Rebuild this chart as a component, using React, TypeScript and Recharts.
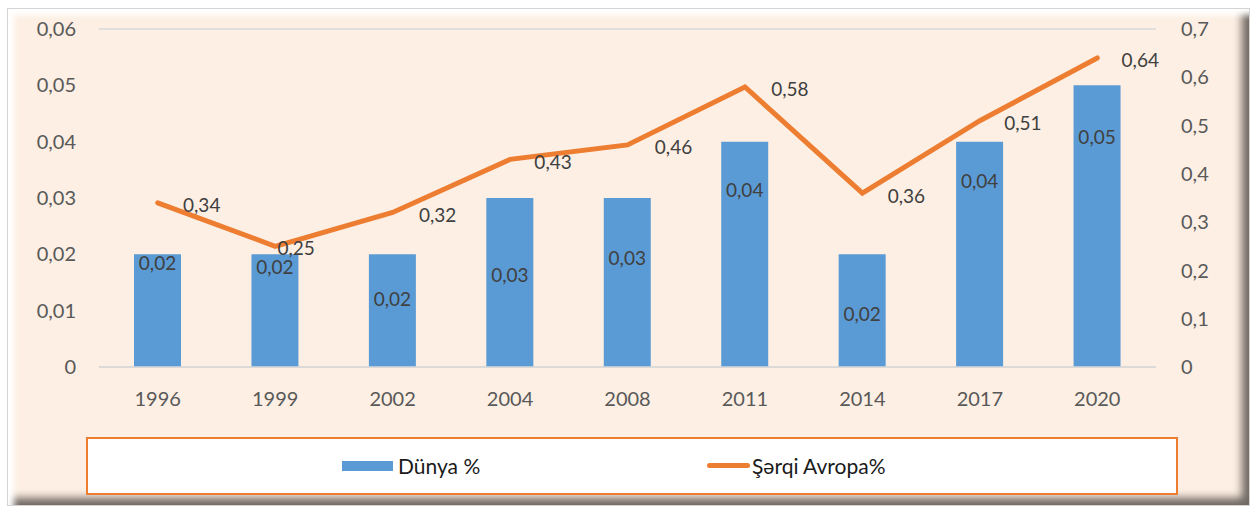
import {
	Bar,
	CartesianGrid,
	ComposedChart,
	LabelList,
	Line,
	XAxis,
	YAxis,
} from "recharts"

const years = ["1996", "1999", "2002", "2004", "2008", "2011", "2014", "2017", "2020"]
const worldShare = [0.02, 0.02, 0.02, 0.03, 0.03, 0.04, 0.02, 0.04, 0.05]
const eastEuropeShare = [0.34, 0.25, 0.32, 0.43, 0.46, 0.58, 0.36, 0.51, 0.64]
const leftTicks = [0, 0.01, 0.02, 0.03, 0.04, 0.05, 0.06]
const rightTicks = [0, 0.1, 0.2, 0.3, 0.4, 0.5, 0.6, 0.7]

// hand-placed label nudges, as in the source chart
const barLabelDrop = [8, 12, 44, 76, 59, 48, 59, 39, 51]
const lineLabelShift = [44, 21, 45, 43, 46, 45, 44, 43, 43]

const chartData = years.map((year, i) => ({
	year,
	world: worldShare[i],
	east: eastEuropeShare[i],
}))

const BLUE = "#5B9BD5"
const ORANGE = "#ED7D31"
const FONT = "Lato, 'Noto Sans', sans-serif"

const fmt = (v: number) => (v === 0 ? "0" : String(v).replace(".", ","))

const renderBarLabel = (props: any) => {
	const { x, y, width, index, value } = props
	return (
		<text
			x={x + width / 2}
			y={y + barLabelDrop[index]}
			textAnchor='middle'
			dominantBaseline='central'
			fill='#404040'
			fontSize={19}
			fontFamily={FONT}
		>
			{fmt(value)}
		</text>
	)
}

const renderLineLabel = (props: any) => {
	const { x, y, index, value } = props
	return (
		<text
			x={x + lineLabelShift[index]}
			y={y + (index === 1 ? 1 : 2)}
			textAnchor='middle'
			dominantBaseline='central'
			fill='#404040'
			fontSize={19}
			fontFamily={FONT}
		>
			{fmt(value)}
		</text>
	)
}

export default function App() {
	return (
		<div
			style={{
				position: "absolute",
				left: 0,
				top: 0,
				width: 1257,
				height: 513,
				background: "#fff",
				fontFamily: FONT,
			}}
		>
			<div
				style={{
					position: "absolute",
					left: 7,
					top: 8,
					width: 1241,
					height: 496,
					border: "1px solid #d4d4d4",
					background: "#FDEFE3",
					boxShadow:
						"inset 9px 9px 6px -3px #ffffff, inset -10px -10px 8px -3px #6f6762",
				}}
			/>
			<div style={{ position: "absolute", left: 0, top: 0 }}>
				<ComposedChart
					width={1257}
					height={513}
					data={chartData}
					margin={{ top: 29, right: 0, bottom: 106, left: 0 }}
					barCategoryGap={35}
				>
					<CartesianGrid vertical={false} stroke='#d9d9d9' strokeWidth={1.5} />
					<XAxis
						dataKey='year'
						axisLine={{ stroke: "#d9d9d9", strokeWidth: 1.5 }}
						tickLine={false}
						height={40}
						tickMargin={19}
						tick={{ fill: "#595959", fontSize: 20, fontFamily: FONT }}
					/>
					<YAxis
						yAxisId='left'
						width={99}
						domain={[0, 0.06]}
						ticks={leftTicks}
						tickFormatter={fmt}
						axisLine={false}
						tickLine={false}
						tickSize={0}
						tickMargin={23}
						tick={{ fill: "#595959", fontSize: 20, fontFamily: FONT }}
					/>
					<YAxis
						yAxisId='right'
						orientation='right'
						width={101}
						domain={[0, 0.7]}
						ticks={rightTicks}
						tickFormatter={fmt}
						axisLine={false}
						tickLine={false}
						tickSize={0}
						tickMargin={25}
						tick={{ fill: "#595959", fontSize: 20, fontFamily: FONT }}
					/>
					<Bar
						yAxisId='left'
						dataKey='world'
						fill={BLUE}
						barSize={47}
						isAnimationActive={false}
					>
						<LabelList dataKey='world' content={renderBarLabel} />
					</Bar>
					<Line
						yAxisId='right'
						dataKey='east'
						stroke={ORANGE}
						strokeWidth={5}
						strokeLinecap='round'
						dot={false}
						activeDot={false}
						isAnimationActive={false}
					>
						<LabelList dataKey='east' content={renderLineLabel} />
					</Line>
				</ComposedChart>
			</div>
			<div
				style={{
					position: "absolute",
					left: 86,
					top: 437,
					width: 1088,
					height: 54,
					border: "2px solid " + ORANGE,
					background: "#fff",
				}}
			>
				<div
					style={{
						position: "absolute",
						left: 254,
						top: 22,
						width: 51,
						height: 10,
						background: BLUE,
					}}
				/>
				<span
					style={{
						position: "absolute",
						left: 310,
						top: 15,
						fontSize: 21,
						lineHeight: "24px",
						color: "#1a1a1a",
					}}
				>
					Dünya %
				</span>
				<div
					style={{
						position: "absolute",
						left: 619,
						top: 24,
						width: 43,
						height: 5,
						borderRadius: 3,
						background: ORANGE,
					}}
				/>
				<span
					style={{
						position: "absolute",
						left: 664,
						top: 15,
						fontSize: 21,
						lineHeight: "24px",
						color: "#1a1a1a",
					}}
				>
					Şərqi Avropa%
				</span>
			</div>
		</div>
	)
}
